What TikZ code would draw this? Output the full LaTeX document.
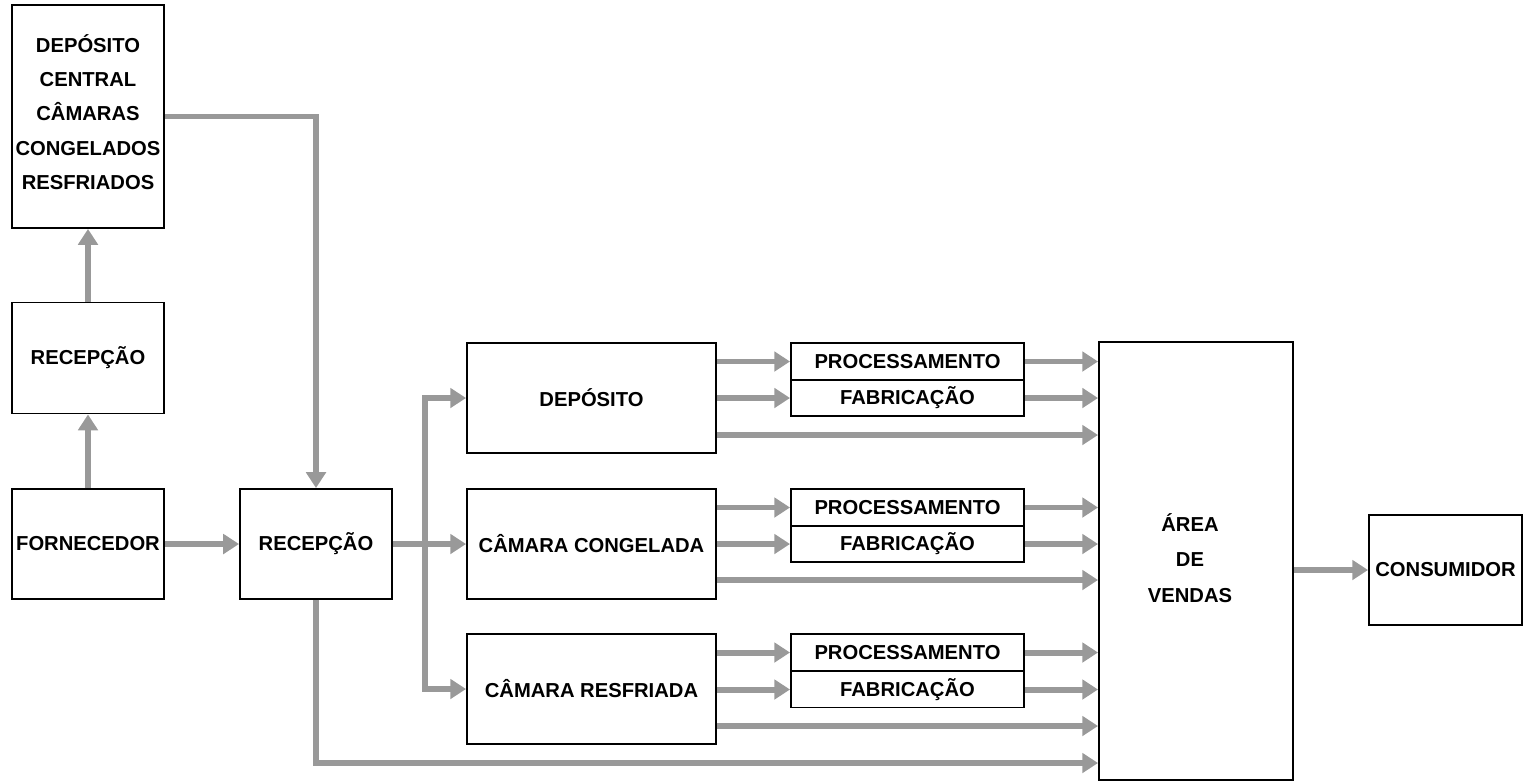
\documentclass[tikz,border=0pt]{standalone}
\usepackage{fontspec}
\setmainfont{Liberation Sans}
\usetikzlibrary{arrows.meta}
\definecolor{arrgray}{RGB}{153,153,153}
\begin{document}
\begin{tikzpicture}[x=0.02cm,y=-0.02cm,
  box/.style={draw=black,line width=1.1pt,fill=white,inner sep=0pt,align=center,
    font=\fontsize{11.5}{18.5}\selectfont\bfseries},
  lbl/.style={inner sep=0pt,align=center,font=\fontsize{11.5}{19.5}\selectfont\bfseries},
  arr/.style={draw=arrgray,line width=3.4pt,-{Triangle[length=9pt,width=11pt]}}]
\useasboundingbox (0,0) rectangle (1524,782);
\node[box,minimum width=3.04cm,minimum height=4.46cm] (dc) at (88,116.5) {};
\node[lbl] (dct) at (88,112) {DEPÓSITO\\CENTRAL\\CÂMARAS\\CONGELADOS\\RESFRIADOS};
\node[box,minimum width=3.04cm,minimum height=2.22cm] (rec1) at (88,358) {RECEPÇÃO};
\node[box,minimum width=3.04cm,minimum height=2.2cm] (forn) at (88,544) {FORNECEDOR};
\node[box,minimum width=3.04cm,minimum height=2.2cm] (rec2) at (316,544) {RECEPÇÃO};
\node[box,minimum width=4.98cm,minimum height=2.2cm] (dep) at (591.5,398) {DEPÓSITO};
\node[box,minimum width=4.98cm,minimum height=2.2cm] (cc) at (591.5,544) {CÂMARA CONGELADA};
\node[box,minimum width=4.98cm,minimum height=2.2cm] (cr) at (591.5,689) {CÂMARA RESFRIADA};
\node[box,minimum width=4.66cm,minimum height=0.74cm] (p1) at (907.5,361.5) {PROCESSAMENTO};
\node[box,minimum width=4.66cm,minimum height=0.72cm] (f1) at (907.5,398) {FABRICAÇÃO};
\node[box,minimum width=4.66cm,minimum height=0.74cm] (p2) at (907.5,507.5) {PROCESSAMENTO};
\node[box,minimum width=4.66cm,minimum height=0.72cm] (f2) at (907.5,544) {FABRICAÇÃO};
\node[box,minimum width=4.66cm,minimum height=0.74cm] (p3) at (907.5,652.5) {PROCESSAMENTO};
\node[box,minimum width=4.66cm,minimum height=0.72cm] (f3) at (907.5,689.5) {FABRICAÇÃO};
\node[box,minimum width=3.88cm,minimum height=8.76cm] (av) at (1196,561) {};
\node[lbl,font=\fontsize{11.5}{20}\selectfont\bfseries] (avt) at (1190,558) {ÁREA\\DE\\VENDAS};
\node[box,minimum width=3.06cm,minimum height=2.2cm] (cons) at (1445.5,570) {CONSUMIDOR};
\coordinate (tj) at (425,544);
\coordinate (dcr) at (316,116.5);
\coordinate (bot) at (316,763);
% left column
\draw[arr] (forn.north) -- (rec1.south);
\draw[arr] (rec1.north) -- (dc.south);
\draw[arr] (dc.east) -- (dcr) -- (rec2.north);
\draw[arr] (forn.east) -- (rec2.west);
% distribution
\draw[arr] (rec2.east) -- (cc.west);
\draw[arr] (tj) |- (dep.west);
\draw[arr] (tj) |- (cr.west);
% depot rows
\foreach \s/\p/\f/\y in {dep/p1/f1/435, cc/p2/f2/580, cr/p3/f3/726}{
  \draw[arr] (\s.east |- \p.west) -- (\p.west);
  \draw[arr] (\s.east |- \f.west) -- (\f.west);
  \draw[arr] (\p.east) -- (av.west |- \p.east);
  \draw[arr] (\f.east) -- (av.west |- \f.east);
  \draw[arr] (\s.east |- 0,\y) -- (av.west |- 0,\y);
}
\draw[arr] (rec2.south) -- (bot) -- (av.west |- bot);
\draw[arr] (av.east |- cons.west) -- (cons.west);
\end{tikzpicture}
\end{document}
